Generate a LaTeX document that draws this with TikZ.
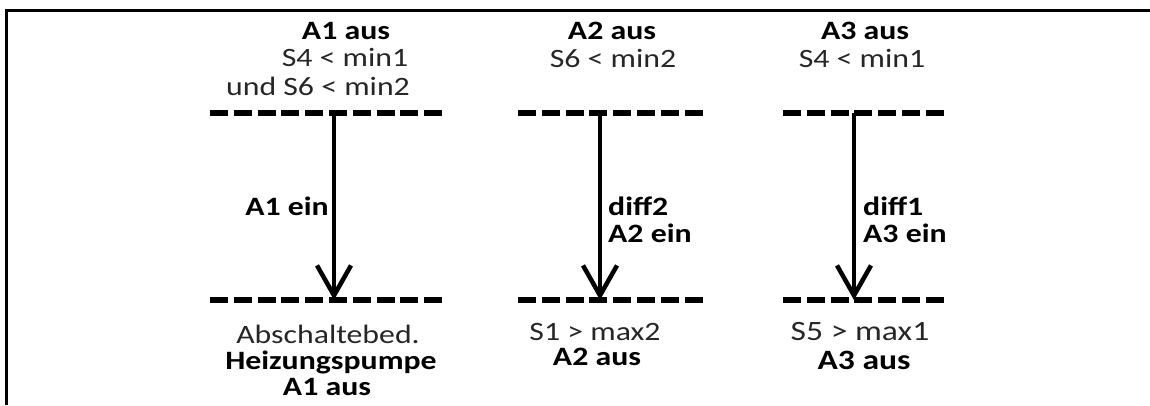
\documentclass[tikz,border=0pt]{standalone}
\usepackage{fontspec}
\setmainfont{Carlito}[FakeStretch=1.2]
\usetikzlibrary{arrows.meta}
\tikzset{
  txt/.style={inner sep=0pt, anchor=base, font=\fontsize{26.5}{31}\selectfont, text=black!85},
  btxt/.style={inner sep=0pt, anchor=base, font=\fontsize{26.5}{31}\selectfont\bfseries, text=black},
  bigtxt/.style={inner sep=0pt, anchor=base, font=\fontsize{28}{33}\selectfont, text=black!85},
  bigbtxt/.style={inner sep=0pt, anchor=base, font=\fontsize{28}{33}\selectfont\bfseries, text=black},
  levelline/.style={line width=5.5pt, dash pattern=on 18pt off 5.8pt},
  flowarrow/.style={line width=4.5pt, -{Straight Barb[length=30pt,width=34pt]}},
  frameline/.style={line width=3pt}
}
\begin{document}
\begin{tikzpicture}[x=1pt,y=-1pt]
\useasboundingbox (0,0) rectangle (1150,405);
% frame
\coordinate (fbl) at (6,405);
\coordinate (ftl) at (6,10);
\coordinate (ftr) at (1150,10);
\draw[frameline] (fbl) -- (ftl) -- (ftr);

% column 1
\coordinate (l1a) at (210,113); \coordinate (l1b) at (443,113);
\coordinate (m1a) at (210,300); \coordinate (m1b) at (443,300);
\coordinate (t1) at (334,113); \coordinate (b1) at (334,300);
\draw[levelline] (l1a) -- (l1b);
\draw[levelline] (m1a) -- (m1b);
\draw[flowarrow] (t1) -- (b1);
\node[btxt] (c1h) at (346,39) {A1 aus};
\node[txt] (c1s) at (345,66) {S4 < min1};
\node[txt] (c1u) at (318,95) {und S6 < min2};
\node[btxt, anchor=base east] (c1e) at (329,215) {A1 ein};
\node[txt] (c1a) at (328,343) {Abschaltebed.};
\node[btxt] (c1p) at (331,369) {Heizungspumpe};
\node[btxt] (c1o) at (327,395) {A1 aus};

% column 2
\coordinate (l2a) at (518,113); \coordinate (l2b) at (703,113);
\coordinate (m2a) at (518,300); \coordinate (m2b) at (703,300);
\coordinate (t2) at (600,113); \coordinate (b2) at (600,300);
\draw[levelline] (l2a) -- (l2b);
\draw[levelline] (m2a) -- (m2b);
\draw[flowarrow] (t2) -- (b2);
\node[btxt] (c2h) at (612,39) {A2 aus};
\node[txt] (c2s) at (613,67) {S6 < min2};
\node[btxt, anchor=base west] (c2d) at (608,215) {diff2};
\node[btxt, anchor=base west] (c2e) at (608,242) {A2 ein};
\node[txt] (c2m) at (595,340) {S1 > max2};
\node[btxt] (c2o) at (597,365) {A2 aus};

% column 3
\coordinate (l3a) at (783,113); \coordinate (l3b) at (947,113);
\coordinate (m3a) at (783,300); \coordinate (m3b) at (947,300);
\coordinate (t3) at (854,113); \coordinate (b3) at (854,300);
\draw[levelline] (l3a) -- (l3b);
\draw[levelline] (m3a) -- (m3b);
\draw[flowarrow] (t3) -- (b3);
\node[btxt] (c3h) at (865,39) {A3 aus};
\node[txt] (c3s) at (862,67) {S4 < min1};
\node[btxt, anchor=base west] (c3d) at (863,215) {diff1};
\node[btxt, anchor=base west] (c3e) at (863,242) {A3 ein};
\node[bigtxt] (c3m) at (860,340) {S5 > max1};
\node[bigbtxt] (c3o) at (864,369) {A3 aus};
\end{tikzpicture}
\end{document}
